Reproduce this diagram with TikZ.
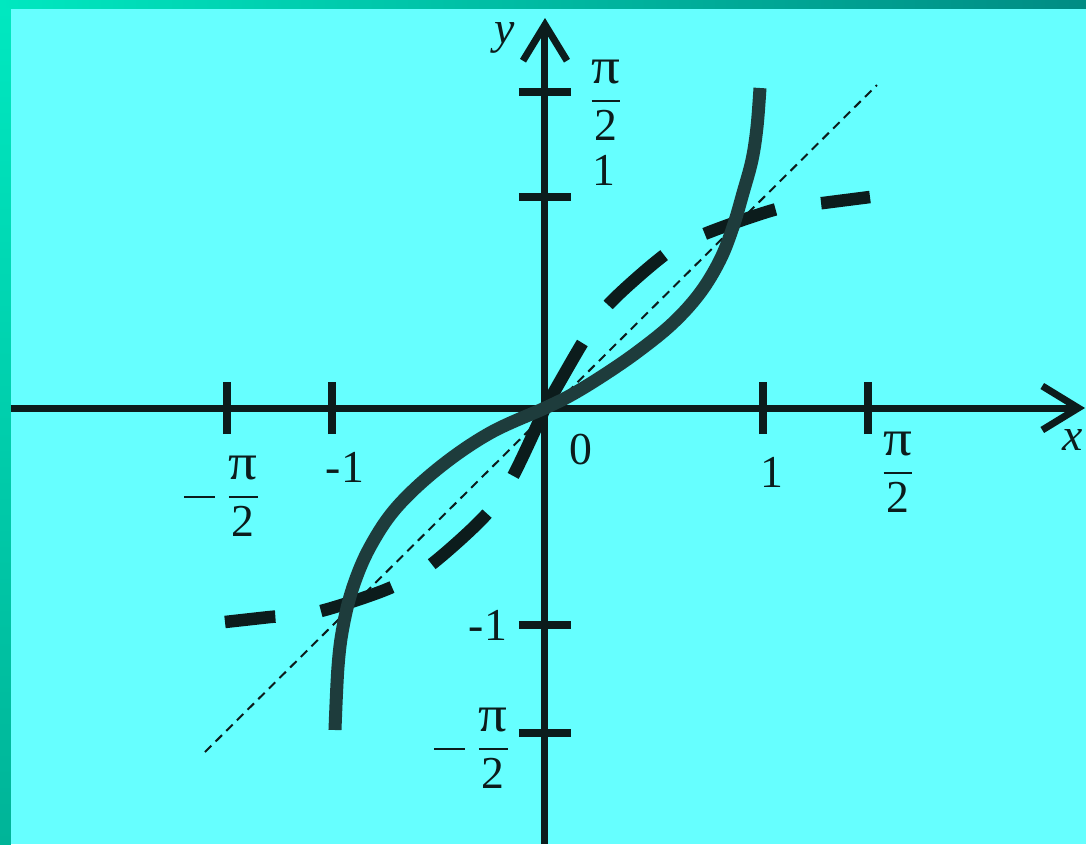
\documentclass[tikz,border=0pt]{standalone}
\usepackage{fontspec}
\usepackage{graphicx}
\setmainfont{Liberation Serif}
\usetikzlibrary{arrows.meta}
\definecolor{bgcyan}{HTML}{66FFFF}
\definecolor{bandlight}{HTML}{00E8C0}
\definecolor{banddark}{HTML}{008C84}
\definecolor{bandlow}{HTML}{00B498}
\definecolor{ink}{HTML}{0C1C1C}
\definecolor{curvecol}{HTML}{1E3C3C}
\newcommand{\halfpi}{\displaystyle\frac{\mbox{\scalebox{1.25}[1.12]{π}}}{\mbox{2}}}
\newcommand{\longminus}{\vcenter{\hbox{\rule{3.1mm}{0.22mm}}}\mkern4mu}
\tikzset{
  axis/.style={line width=0.7mm, ink, -{Straight Barb[length=3.6mm, width=4.4mm]}},
  tick/.style={line width=0.8mm, ink},
  lbl/.style={font=\fontsize{13}{15}\selectfont, text=ink, inner sep=0pt},
  arcline/.style={line width=1.3mm, curvecol},
  invline/.style={line width=1.25mm, ink, dash pattern=on 7.5mm off 4.6mm},
  diag/.style={line width=0.2mm, ink, dash pattern=on 0.9mm off 0.6mm},
}

\begin{document}
\begin{tikzpicture}[x=0.1mm, y=0.1mm]
  % background and frame bands
  \fill[bgcyan] (-545,-436) rectangle (541,408);
  \shade[left color=bandlight, right color=banddark] (-545,400) rectangle (541,408);
  \shade[top color=bandlight, bottom color=bandlow] (-545,-436) rectangle (-534,400);
  \useasboundingbox (-545,-436) rectangle (541,408);

  % axes
  \coordinate (xl) at (-534,0);
  \coordinate (xr) at (540,0);
  \coordinate (yb) at (0,-436);
  \coordinate (yt) at (0,390);
  \draw[axis] (xl) -- (xr);
  \draw[axis] (yb) -- (yt);
  \foreach \u in {-318,-213,218,323}
    \draw[tick] (\u,-26) -- (\u,26);
  \foreach \v in {-325,-217,211,316}
    \draw[tick] (-26,\v) -- (26,\v);

  % line y = x
  \coordinate (dl) at (-340,-344);
  \coordinate (dr) at (332,323);
  \draw[diag] (dl) -- (dr);

  % dashed curve, two halves from the origin
  \draw[invline] plot[smooth] coordinates {(0,0) (38,66) (65,105) (122,155)
    (162,175) (232,199) (278,205) (325,211)};
  \draw[invline] plot[smooth] coordinates {(0,0) (-33,-70) (-62,-110) (-117,-159)
    (-160,-182) (-228,-204) (-275,-209) (-320,-214)};

  % solid curve
  \draw[arcline] plot[smooth, tension=0.6] coordinates {(-210,-322) (-207,-259)
    (-202,-219) (-192,-179) (-175,-139) (-148,-99) (-105,-59) (-55,-25) (0,0)
    (28,14) (62,35) (95,58) (128,85) (155,115) (175,148) (188,181) (198,215)
    (207,248) (212,281) (215,320)};

  % labels
  \node[lbl] (xlab) at (528,-32) {\textit{x}};
  \node[lbl] (ylab) at (-40,370) {\textit{y}};
  \node[lbl] (zero) at (36,-42) {0};
  \node[lbl] (xmpi) at (-322,-88) {$\longminus\halfpi$};
  \node[lbl] (xmone) at (-200,-59) {-1};
  \node[lbl] (xone) at (227,-64) {1};
  \node[lbl] (xpi) at (353,-64) {$\halfpi$};
  \node[lbl] (ypi) at (61,308) {$\halfpi$};
  \node[lbl] (yone) at (59,238) {1};
  \node[lbl] (ymone) at (-57,-217) {-1};
  \node[lbl] (ympi) at (-72,-340) {$\longminus\halfpi$};
\end{tikzpicture}
\end{document}
